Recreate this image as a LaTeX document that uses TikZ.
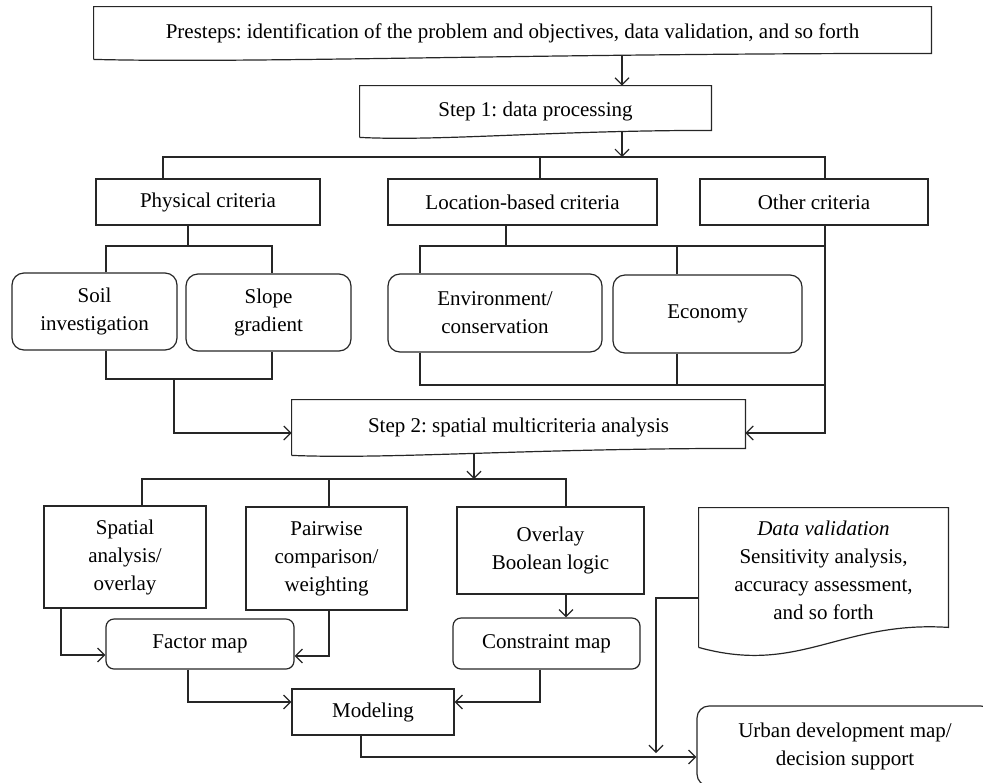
\documentclass[tikz,border=0pt]{standalone}
\usepackage{fontspec}
\setmainfont{Liberation Serif}
\usetikzlibrary{arrows.meta,calc}
\frenchspacing

\tikzset{
  line/.style={draw=black!85, line width=0.6pt},
  arr/.style={line, -{Straight Barb[length=3.5pt,width=7pt]}},
  box/.style={line, rectangle, align=center, inner sep=0pt, text=black},
  rbox/.style={box, rounded corners=6pt},
  mapbox/.style={box, rounded corners=4pt},
  doc/.style={rectangle, align=center, inner sep=0pt, text=black},
}

\begin{document}
\begin{tikzpicture}[x=0.5pt, y=-0.5pt, font=\fontsize{10.5}{14}\selectfont]
  \useasboundingbox (0,0) rectangle (983,782);
  \clip (0,0) rectangle (983,782);

  % step boxes with a wavy bottom
  \node[doc, minimum width=418.5pt, minimum height=26pt] (pre) at (512.5,33)
    {Presteps: identification of the problem and objectives, data validation, and so forth};
  \draw[line] (pre.south west) -- (pre.north west) -- (pre.north east) -- ([yshift=3pt]pre.south east)
    .. controls +(-200pt,0pt) and +(80pt,-2pt) .. (pre.south west);
  \node[doc, minimum width=175.5pt, minimum height=25.5pt] (step1) at (535.5,111.5) {Step 1: data processing};
  \draw[line] (step1.south west) -- (step1.north west) -- (step1.north east) -- ([yshift=3.5pt]step1.south east)
    .. controls +(-80pt,0pt) and +(40pt,-2pt) .. (step1.south west);

  % criteria
  \node[box, minimum width=112pt, minimum height=23pt] (phys) at (208,202) {Physical criteria};
  \node[box, minimum width=134.5pt, minimum height=23pt] (loc) at (522.5,202) {Location-based criteria};
  \node[box, minimum width=114pt, minimum height=23pt] (other) at (814,202) {Other criteria};
  \node[rbox, minimum width=82.5pt, minimum height=38.5pt] (soil) at (94.5,311.5) {Soil\\investigation};
  \node[rbox, minimum width=82.5pt, minimum height=38.5pt] (slope) at (268.5,312.5) {Slope\\gradient};
  \node[rbox, minimum width=107pt, minimum height=39pt] (env) at (495,313) {Environment/\\conservation};
  \node[rbox, minimum width=94.5pt, minimum height=39pt] (econ) at (707.5,314) {Economy};

  \node[doc, minimum width=226.5pt, minimum height=27.5pt] (step2) at (518.5,427.5) {Step 2: spatial multicriteria analysis};
  \draw[line] (step2.south west) -- (step2.north west) -- (step2.north east) -- ([yshift=3.5pt]step2.south east)
    .. controls +(-110pt,0pt) and +(50pt,-2pt) .. (step2.south west);

  % analysis
  \node[box, minimum width=81pt, minimum height=51pt] (spat) at (125,557) {Spatial\\analysis/\\overlay};
  \node[box, minimum width=80.5pt, minimum height=51.5pt] (pair) at (326.5,558.5) {Pairwise\\comparison/\\weighting};
  \node[box, minimum width=93.5pt, minimum height=43.5pt] (over) at (550.5,550.5) {Overlay\\Boolean logic};
  \node[doc, minimum width=124.5pt, minimum height=62pt] (valid) at (823.5,570)
    {\textit{Data validation}\\Sensitivity analysis,\\accuracy assessment,\\and so forth};
  \draw[line] ([yshift=-7.5pt]valid.south west) -- (valid.north west) -- (valid.north east) -- ([yshift=2.5pt]valid.south east)
    .. controls +(-54pt,3.5pt) and +(50.5pt,-14pt) .. ([yshift=-7.5pt]valid.south west);
  \node[mapbox, minimum width=94pt, minimum height=25pt] (factor) at (200,644) {Factor map};
  \node[mapbox, minimum width=93.5pt, minimum height=25.5pt] (constr) at (546.5,643.5) {Constraint map};
  \node[box, minimum width=81pt, minimum height=23pt] (model) at (373,712) {Modeling};
  \node[rbox, minimum width=148pt, minimum height=40pt] (urban) at (845,746) {Urban development map/\\decision support};

  % junctions
  \coordinate (j1) at (622,157);
  \coordinate (jp) at (188,246);
  \coordinate (jm) at (174,379);
  \coordinate (jl) at (825,246);
  \coordinate (je) at (825,385);
  \coordinate (j2) at (474,479);
  \coordinate (jv) at (656,753);

  % connectors
  \draw[arr] ($(pre.south -| j1)+(0,2pt)$) -- (step1.north -| j1);
  \draw[arr] ($(step1.south -| j1)+(0,3pt)$) -- (j1);
  \draw[line] ([xshift=-22.5pt]phys.north) |- (j1) -| ([xshift=5.5pt]other.north);
  \draw[line] ([xshift=8.75pt]loc.north) |- (j1);

  \draw[line] ([xshift=-10pt]phys.south) -- (jp);
  \draw[line] ([xshift=5.75pt]soil.north) |- (jp) -| ([xshift=1.75pt]slope.north);
  \draw[line] ([xshift=5.75pt]soil.south) |- (jm) -| ([xshift=1.75pt]slope.south);
  \draw[arr] (jm) |- ([yshift=-2.75pt]step2.west);

  \draw[line] ([xshift=-8.25pt]loc.south) |- (jl);
  \draw[line] ([xshift=-37.5pt]env.north) |- (jl);
  \draw[line] ([xshift=-15.25pt]econ.north) |- (jl);
  \draw[line] ([xshift=-37.5pt]env.south) |- (je);
  \draw[line] ([xshift=-15.25pt]econ.south) |- (je);
  \draw[arr] ([xshift=5.5pt]other.south) |- ([yshift=-2.75pt]step2.east);

  \draw[arr] ($(step2.south -| j2)+(0,1pt)$) -- (j2);
  \draw[line] ([xshift=8.5pt]spat.north) |- (j2) -| ([xshift=7.75pt]over.north);
  \draw[line] ([xshift=1.25pt]pair.north) |- (j2);

  \draw[arr] ([xshift=-32pt]spat.south) |- ([yshift=-5.5pt]factor.west);
  \draw[arr] ([xshift=1.25pt]pair.south) |- ([yshift=-6pt]factor.east);
  \draw[arr] ([xshift=7.75pt]over.south) -- ([xshift=9.75pt]constr.north);
  \draw[arr] ([xshift=-6pt]factor.south) |- ([yshift=5pt]model.west);
  \draw[arr] ([xshift=-3.25pt]constr.south) |- ([yshift=5pt]model.east);
  \draw[arr] ([xshift=-6pt]model.south) |- ([yshift=-5.5pt]urban.west);
  \draw[arr] ([yshift=-14pt]valid.west) -| (jv);
\end{tikzpicture}
\end{document}
